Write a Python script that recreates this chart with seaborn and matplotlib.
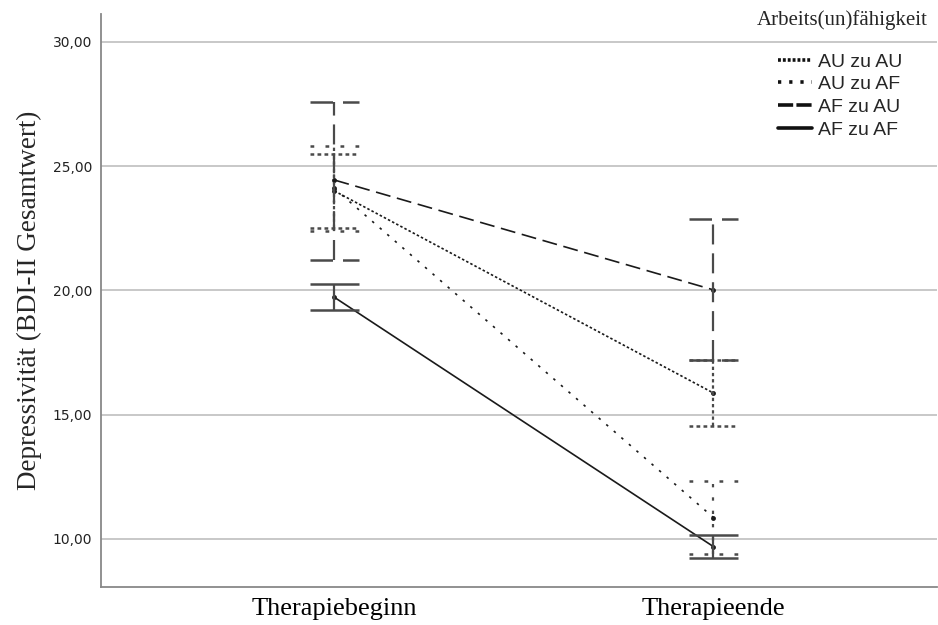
import numpy as np
import pandas as pd
import matplotlib
matplotlib.use("Agg")
import matplotlib.pyplot as plt
import seaborn as sns
from matplotlib.lines import Line2D
from matplotlib.ticker import FuncFormatter

# Werte
zeitpunkte = ["Therapiebeginn", "Therapieende"]
gruppen = ["AU zu AU", "AU zu AF", "AF zu AU", "AF zu AF"]
mittel = {
    "AU zu AU": [24.0, 15.87],
    "AU zu AF": [24.1, 10.86],
    "AF zu AU": [24.44, 20.02],
    "AF zu AF": [19.72, 9.69],
}
ci_unten = {
    "AU zu AU": [22.5, 14.53],
    "AU zu AF": [22.4, 9.40],
    "AF zu AU": [21.22, 17.2],
    "AF zu AF": [19.2, 9.22],
}
ci_oben = {
    "AU zu AU": [25.48, 17.2],
    "AU zu AF": [25.8, 12.32],
    "AF zu AU": [27.59, 22.86],
    "AF zu AF": [20.26, 10.16],
}

stile = {
    "AU zu AU": (0, (1.5, 1.3)),
    "AU zu AF": (0, (1.5, 4.5)),
    "AF zu AU": (0, (9, 4)),
    "AF zu AF": "solid",
}
# Legendenmuster (werden mit der Linienbreite skaliert)
stile_legende = {
    "AU zu AU": (0, (0.8, 0.55)),
    "AU zu AF": (0, (0.9, 2.2)),
    "AF zu AU": (0, (4.2, 0.9)),
    "AF zu AF": "solid",
}

sns.set_style("white")
plt.rcParams["font.family"] = ["DejaVu Sans"]

rows = []
for g in gruppen:
    for i, z in enumerate(zeitpunkte):
        rows.append({"Zeitpunkt": z, "pos": i, "Gruppe": g, "BDI": mittel[g][i]})
df = pd.DataFrame(rows)

fig = plt.figure(figsize=(9.38, 6.25), dpi=100)
ax = fig.add_axes([0.108, 0.061, 0.891, 0.917])

for g in gruppen:
    sub = df[df["Gruppe"] == g]
    sns.lineplot(data=sub, x="pos", y="BDI", ax=ax, color="#1a1a1a", lw=1.2,
                 linestyle=stile[g], marker="o", markersize=3.5, markeredgewidth=0,
                 legend=False)
    # Konfidenzintervalle mit Querbalken
    xs = np.arange(len(zeitpunkte))
    ax.vlines(xs, ci_unten[g], ci_oben[g], colors="#4a4a4a", lw=1.6, linestyles=stile[g])
    ax.hlines(ci_unten[g], xs - 0.065, xs + 0.065, colors="#4a4a4a", lw=1.8, linestyles=stile[g])
    ax.hlines(ci_oben[g], xs - 0.065, xs + 0.065, colors="#4a4a4a", lw=1.8, linestyles=stile[g])

ax.set_xlim(-0.615, 1.59)
ax.set_ylim(8.07, 31.13)
ax.set_xticks(range(len(zeitpunkte)))
ax.set_xticklabels(zeitpunkte, family="Liberation Serif", fontsize=19)
ax.set_yticks([10, 15, 20, 25, 30])
ax.yaxis.set_major_formatter(FuncFormatter(lambda v, p: f"{v:.2f}".replace(".", ",")))
ax.tick_params(axis="y", labelsize=10, length=0, pad=6.5, colors="#222222")
ax.tick_params(axis="x", length=0, pad=8, colors="#000000")
ax.set_xlabel("")
ax.set_ylabel("Depressivität (BDI-II Gesamtwert)", family="Liberation Serif", fontsize=19.5,
              labelpad=8)
ax.yaxis.grid(True, color="#c4c4c4", lw=1.3)
ax.xaxis.grid(False)
ax.set_axisbelow(True)
for s in ["top", "right"]:
    ax.spines[s].set_visible(False)
for s in ["left", "bottom"]:
    ax.spines[s].set_color("#888888")
    ax.spines[s].set_linewidth(1.3)

handles = [Line2D([], [], color="#111111", lw=2.6, linestyle=stile_legende[g]) for g in gruppen]
ax.legend(handles, gruppen, loc="upper left", bbox_to_anchor=(778 / 938, 1 - 53 / 625),
          bbox_transform=fig.transFigure, frameon=False, borderpad=0, borderaxespad=0,
          prop={"family": "Liberation Sans", "size": 14}, handlelength=1.75,
          handletextpad=0.3, labelspacing=0.26)
fig.text(928 / 938, 1 - 20 / 625, "Arbeits(un)fähigkeit", ha="right", va="center",
         family="Liberation Serif", fontsize=15)

fig.savefig("out.png", dpi=100)
